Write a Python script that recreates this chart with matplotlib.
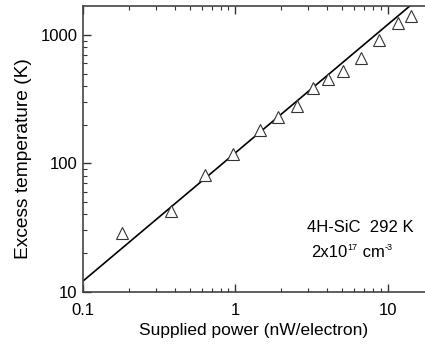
import matplotlib
matplotlib.use('Agg')
import matplotlib.pyplot as plt
from matplotlib.ticker import FixedLocator, NullFormatter, LogLocator

plt.rcParams['font.family'] = ['Liberation Sans', 'DejaVu Sans']

power = [0.18, 0.376, 0.63, 0.958, 1.45, 1.90, 2.53, 3.22, 4.04, 5.07, 6.65, 8.77, 11.6, 14.2]
temp = [28.5, 42.8, 81, 118, 182, 228, 280, 389, 455, 525, 667, 910, 1236, 1416]

# linear fit line endpoints
fit_power = [0.1, 20]
fit_temp = [12.1, 2420]

x_ticks = [0.1, 1, 10]
x_labels = ['0.1', '1', '10']
y_ticks = [10, 100, 1000]
y_labels = ['10', '100', '1000']

fig = plt.figure(figsize=(4.25, 3.49), dpi=100)
ax = fig.add_axes([0.1953, 0.1642, 0.8047, 0.8186])

ax.plot(fit_power, fit_temp, color='black', lw=1.2, zorder=2)
ax.plot(power, temp, ls='none', marker='^', ms=8.5, mfc='white', mec='#333333', mew=0.8, zorder=3)

ax.set_xscale('log')
ax.set_yscale('log')
ax.set_xlim(0.1, 17.5)
ax.set_ylim(10, 1683)

ax.xaxis.set_major_locator(FixedLocator(x_ticks))
ax.set_xticklabels(x_labels)
ax.yaxis.set_major_locator(FixedLocator(y_ticks))
ax.set_yticklabels(y_labels)
ax.xaxis.set_minor_locator(LogLocator(base=10, subs=range(2, 10)))
ax.yaxis.set_minor_locator(LogLocator(base=10, subs=range(2, 10)))
ax.xaxis.set_minor_formatter(NullFormatter())
ax.yaxis.set_minor_formatter(NullFormatter())

ax.tick_params(which='both', direction='in', top=True, right=False, colors='#333333',
               labelcolor='black', labelsize=12)
ax.tick_params(which='major', length=6, width=1)
ax.tick_params(which='minor', length=3, width=0.8)
ax.tick_params(axis='x', pad=8)
ax.tick_params(axis='y', pad=4)

for side in ['left', 'bottom', 'top']:
    ax.spines[side].set_color('#444444')
    ax.spines[side].set_linewidth(1.2)
ax.spines['right'].set_visible(False)

ax.set_xlabel('Supplied power (nW/electron)', fontsize=12.5, labelpad=4)
ax.set_ylabel('Excess temperature (K)', fontsize=13.8, labelpad=6)
ax.yaxis.label.set_y(0.465)

fig.text(360 / 425, 1 - 228 / 349, '4H-SiC  292 K', fontsize=12, ha='center', va='center')

# second line with small raised superscripts
t1 = fig.text(311 / 425, 1 - 257 / 349, '2x10', fontsize=12, ha='left', va='baseline')
s1 = ax.annotate('17', xy=(1, 1), xycoords=t1, xytext=(0.3, 1.5), textcoords='offset points',
                 fontsize=6.5, ha='left', va='top', annotation_clip=False)
t2 = ax.annotate(' cm', xy=(1, 0), xycoords=(s1, t1), xytext=(0, 0), textcoords='offset points',
                 fontsize=12, ha='left', va='bottom', annotation_clip=False)
s2 = ax.annotate('-3', xy=(1, 1), xycoords=t2, xytext=(0.3, 1.5), textcoords='offset points',
                 fontsize=6.5, ha='left', va='top', annotation_clip=False)

fig.savefig('out.png', dpi=100)
